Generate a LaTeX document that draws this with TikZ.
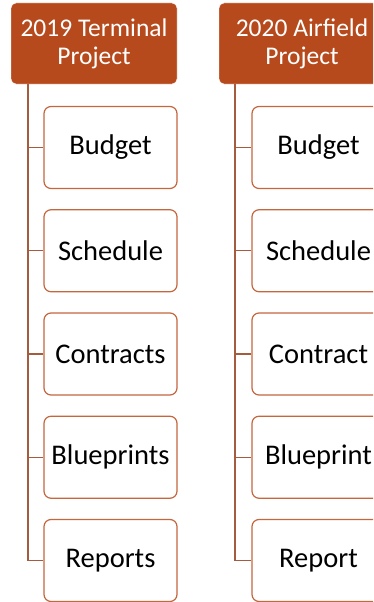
\documentclass[tikz,border=0pt]{standalone}
\usepackage{fontspec}
\setmainfont{Carlito}
\usetikzlibrary{positioning}
\definecolor{rust}{RGB}{183,74,29}
\definecolor{rustline}{RGB}{196,102,62}
\definecolor{spine}{RGB}{163,92,62}
\tikzset{
  project/.style={
    rounded corners=5pt,
    draw=white,
    fill=rust,
    text=white,
    align=center,
    minimum width=166pt,
    minimum height=81pt,
    inner sep=0pt,
    font=\fontsize{25.5}{28}\selectfont
  },
  task/.style={
    rounded corners=7pt,
    draw=rustline,
    line width=1.2pt,
    fill=white,
    minimum width=133pt,
    minimum height=82pt,
    inner sep=0pt,
    font=\fontsize{28.5}{30}\selectfont
  },
  link/.style={
    draw=spine,
    line width=1.3pt
  }
}

\begin{document}
\begin{tikzpicture}[x=1pt,y=-1pt]
  \clip (0,0) rectangle (373,602);
  \useasboundingbox (0,0) rectangle (373,602);
  % left column
  \coordinate (ls) at (28,0);
  \node[project] (lh) at (94,43.5) {2019 Terminal\\Project};
  \foreach \t [count=\i] in {Budget,Schedule,Contracts,Blueprints,Reports}{
    \node[task] (l\i) at (110.5,{44.25+103.25*\i}) {\t};
    \draw[link] (ls |- lh.south) |- (l\i.west);
  }
  % right column
  \coordinate (rs) at (235,0);
  \node[project] (rh) at (302,43.5) {2020 Airfield\\Project};
  \foreach \t [count=\i] in {Budget,Schedule,Contract,Blueprint,Report}{
    \node[task] (r\i) at (318.5,{44.25+103.25*\i}) {\t};
    \draw[link] (rs |- rh.south) |- (r\i.west);
  }
\end{tikzpicture}
\end{document}
